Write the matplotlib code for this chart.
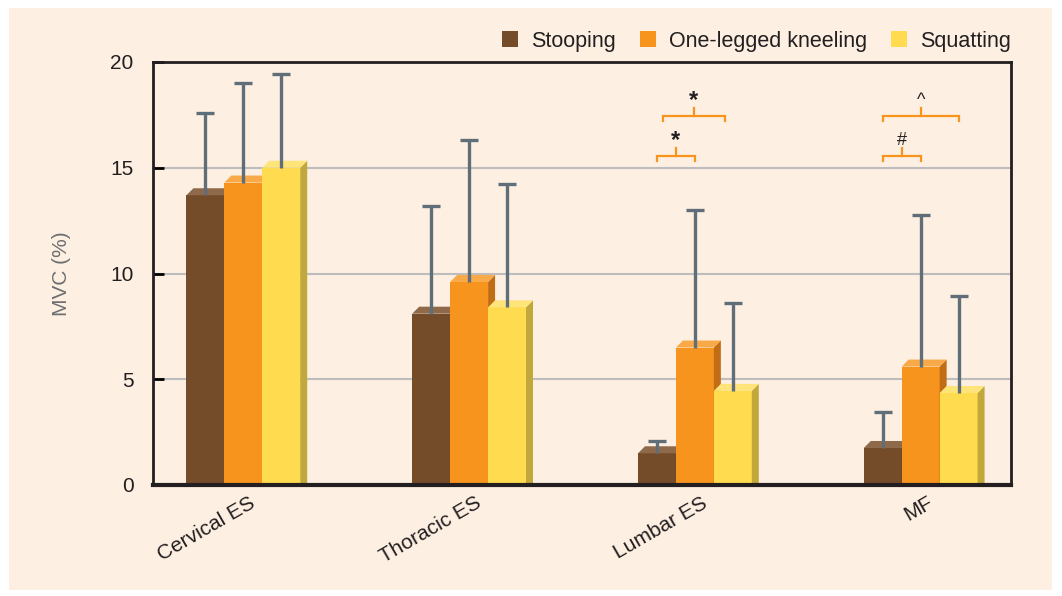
import numpy as np
import matplotlib
matplotlib.use('Agg')
import matplotlib.pyplot as plt
import matplotlib.transforms as mtransforms
from matplotlib.patches import Rectangle, Polygon

plt.rcParams['font.family'] = ['Liberation Sans', 'DejaVu Sans']

# Data
muscles = ['Cervical ES', 'Thoracic ES', 'Lumbar ES', 'MF']
postures = ['Stooping', 'One-legged kneeling', 'Squatting']
stooping = [13.7, 8.1, 1.5, 1.75]
kneeling = [14.3, 9.6, 6.5, 5.6]
squatting = [15.0, 8.4, 4.45, 4.35]
stooping_sd = [3.9, 5.1, 0.6, 1.7]
kneeling_sd = [4.7, 6.7, 6.5, 7.15]
squatting_sd = [4.45, 5.85, 4.15, 4.6]

# significance brackets: (group, from bar, to bar, height, symbol)
brackets = [(2, 0, 1, 15.55, '*'), (2, 0.15, 1.8, 17.45, '*'),
            (3, 0, 1, 15.55, '#'), (3, 0, 2, 17.45, '^')]

front = ['#754c29', '#f7941e', '#ffdc4f']
top = ['#8e6a4a', '#f9a948', '#ffe47a']
side = ['#5c3b1f', '#c06d16', '#c0a83a']
bg = '#fdefe1'

fig = plt.figure(figsize=(10.62, 5.96), dpi=100, facecolor='white')
fig.patches.append(Rectangle((9 / 1062, 1 - 590 / 596), 1043 / 1062, 582 / 596,
                             transform=fig.transFigure, facecolor=bg,
                             edgecolor='none', zorder=-5))
ax = fig.add_axes([153 / 1062, 1 - 485 / 596, 858 / 1062, 423 / 596])
ax.set_facecolor(bg)

x = np.arange(len(muscles))
w = 0.168
dx = 7 / 226
dy = 7 / 21.15
cap = 0.04

series = [(stooping, stooping_sd), (kneeling, kneeling_sd), (squatting, squatting_sd)]
for g in range(len(muscles)):
    for i, (vals, sds) in enumerate(series):
        xc = x[g] + (i - 1) * w
        h = vals[g]
        x0 = xc - w / 2
        ax.bar(xc, h, width=w, color=front[i], zorder=2, linewidth=0)
        ax.add_patch(Polygon([(x0 + w, 0), (x0 + w, h), (x0 + w + dx, h + dy),
                              (x0 + w + dx, 0)], closed=True, facecolor=side[i],
                             edgecolor='none', zorder=2))
        ax.add_patch(Polygon([(x0, h), (x0 + w, h), (x0 + w + dx, h + dy),
                              (x0 + dx, h + dy)], closed=True, facecolor=top[i],
                             edgecolor='none', zorder=2))
        # upper error bar only
        ax.vlines(xc, h, h + sds[g], color='#5f6e79', lw=2.4, zorder=5)
        ax.hlines(h + sds[g], xc - cap, xc + cap, color='#5f6e79', lw=2.4, zorder=5)

for g, a, b, y, sym in brackets:
    xa = x[g] + (a - 1) * w
    xb = x[g] + (b - 1) * w
    ax.plot([xa, xa, xb, xb], [y - 0.25, y, y, y - 0.25], color='#f7941e', lw=1.6,
            zorder=5, solid_joinstyle='miter')
    xm = (xa + xb) / 2
    ax.plot([xm, xm], [y, y + 0.38], color='#f7941e', lw=1.6, zorder=5)
    if sym == '*':
        ax.text(xm, y + 0.2, sym, ha='center', va='bottom', fontsize=17,
                fontweight='bold', color='#231f20')
    else:
        ax.text(xm, y + 0.35, sym, ha='center', va='bottom', fontsize=13,
                color='#231f20')

ax.set_xlim(-0.4, 3.4)
ax.set_ylim(0, 20)
ax.set_yticks([0, 5, 10, 15, 20])
ax.yaxis.grid(True, color='#bdbdbd', lw=1.5)
ax.set_axisbelow(True)
ax.tick_params(axis='y', direction='in', length=8, width=2, labelsize=15,
               labelcolor='#231f20', pad=14)
ax.tick_params(axis='x', length=0, labelsize=15, labelcolor='#231f20', pad=6)
ax.set_xticks(x)
ax.set_xticklabels(muscles, rotation=30, ha='right', rotation_mode='anchor')
shift = mtransforms.ScaledTranslation(6 / 100, 0, fig.dpi_scale_trans)
for lab in ax.get_xticklabels():
    lab.set_transform(lab.get_transform() + shift)
ax.set_ylabel('MVC (%)', fontsize=15, color='#6d6e71', labelpad=28)
for s in ['left', 'top', 'right']:
    ax.spines[s].set_color('#231f20')
    ax.spines[s].set_linewidth(2)
ax.spines['bottom'].set_color('#231f20')
ax.spines['bottom'].set_linewidth(3)

handles = [Rectangle((0, 0), 1, 1, facecolor=c, edgecolor='none') for c in front]
fig.legend(handles, postures, loc='center right', bbox_to_anchor=(1030 / 1062, 1 - 41 / 596),
           ncol=3, frameon=False, fontsize=15.5, handlelength=0.75, handleheight=0.75,
           handletextpad=0.6, columnspacing=1.1, labelcolor='#231f20')

fig.savefig('out.png', dpi=100, facecolor='white')
